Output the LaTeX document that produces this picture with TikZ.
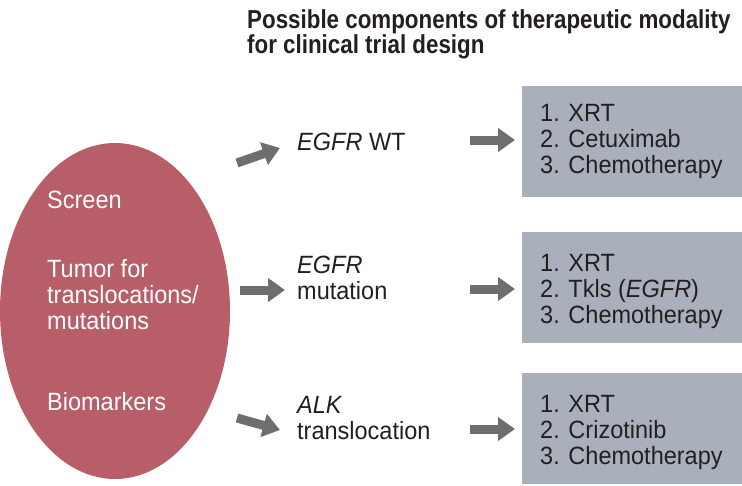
\documentclass[tikz,border=0pt]{standalone}
\usepackage{fontspec}
\setmainfont[FakeStretch=0.94]{Liberation Sans}
\newfontfamily\titlefont[FakeStretch=0.86]{Liberation Sans}
\usetikzlibrary{arrows.meta,shapes.geometric}
\definecolor{ovalred}{RGB}{183,94,104}
\definecolor{boxgray}{RGB}{169,176,187}
\definecolor{arrowgray}{RGB}{109,110,112}
\definecolor{textblack}{RGB}{35,31,32}

\begin{document}
\begin{tikzpicture}[x=1pt,y=-1pt,
    txt/.style={inner sep=0, anchor=base west, align=left, text=textblack, font=\fontsize{25}{26}\selectfont},
    wtxt/.style={txt, text=white},
    fat/.style={draw=arrowgray, line width=9pt, -{Triangle[length=17pt,width=23pt]}},
    tbox/.style={fill=boxgray, anchor=north west, minimum width=220pt, minimum height=111pt, inner sep=0}]
  \useasboundingbox (0,0) rectangle (742,485);
  \node[txt, font=\titlefont\bfseries\fontsize{26}{25}\selectfont] (title) at (247,53) {Possible components of therapeutic modality\\for clinical trial design};
  \node[ellipse, fill=ovalred, minimum width=230pt, minimum height=336pt, inner sep=0] (oval) at (115,311) {};
  \node[wtxt] (screen) at (47,208) {Screen};
  \node[wtxt] (tumor) at (47,329) {Tumor for\\translocations/\\mutations};
  \node[wtxt] (bio) at (47,410) {Biomarkers};
  \node[txt] (wt) at (297,150) {\textit{EGFR} WT};
  \node[txt] (mut) at (297,299) {\textit{EGFR}\\mutation};
  \node[txt] (alk) at (297,439) {\textit{ALK}\\translocation};
  \node[tbox] (box1) at (522,86) {};
  \node[tbox] (box2) at (522,232) {};
  \node[tbox] (box3) at (522,373) {};
  \node[txt] (list1) at (540,173) {1. XRT\\2. Cetuximab\\3. Chemotherapy};
  \node[txt] (list2) at (540,323) {1. XRT\\2. Tkls (\textit{EGFR})\\3. Chemotherapy};
  \node[txt] (list3) at (540,464) {1. XRT\\2. Crizotinib\\3. Chemotherapy};
  \coordinate (up0) at (237,163);
  \coordinate (up1) at (280,148);
  \coordinate (mid0) at (240,290);
  \coordinate (mid1) at (285,290);
  \coordinate (down0) at (237,418);
  \coordinate (down1) at (280,430);
  \coordinate (r10) at (470,140);
  \coordinate (r11) at (515,140);
  \coordinate (r20) at (470,289);
  \coordinate (r21) at (515,289);
  \coordinate (r30) at (470,429);
  \coordinate (r31) at (515,429);
  \draw[fat] (up0) -- (up1);
  \draw[fat] (mid0) -- (mid1);
  \draw[fat] (down0) -- (down1);
  \draw[fat] (r10) -- (r11);
  \draw[fat] (r20) -- (r21);
  \draw[fat] (r30) -- (r31);
\end{tikzpicture}
\end{document}
